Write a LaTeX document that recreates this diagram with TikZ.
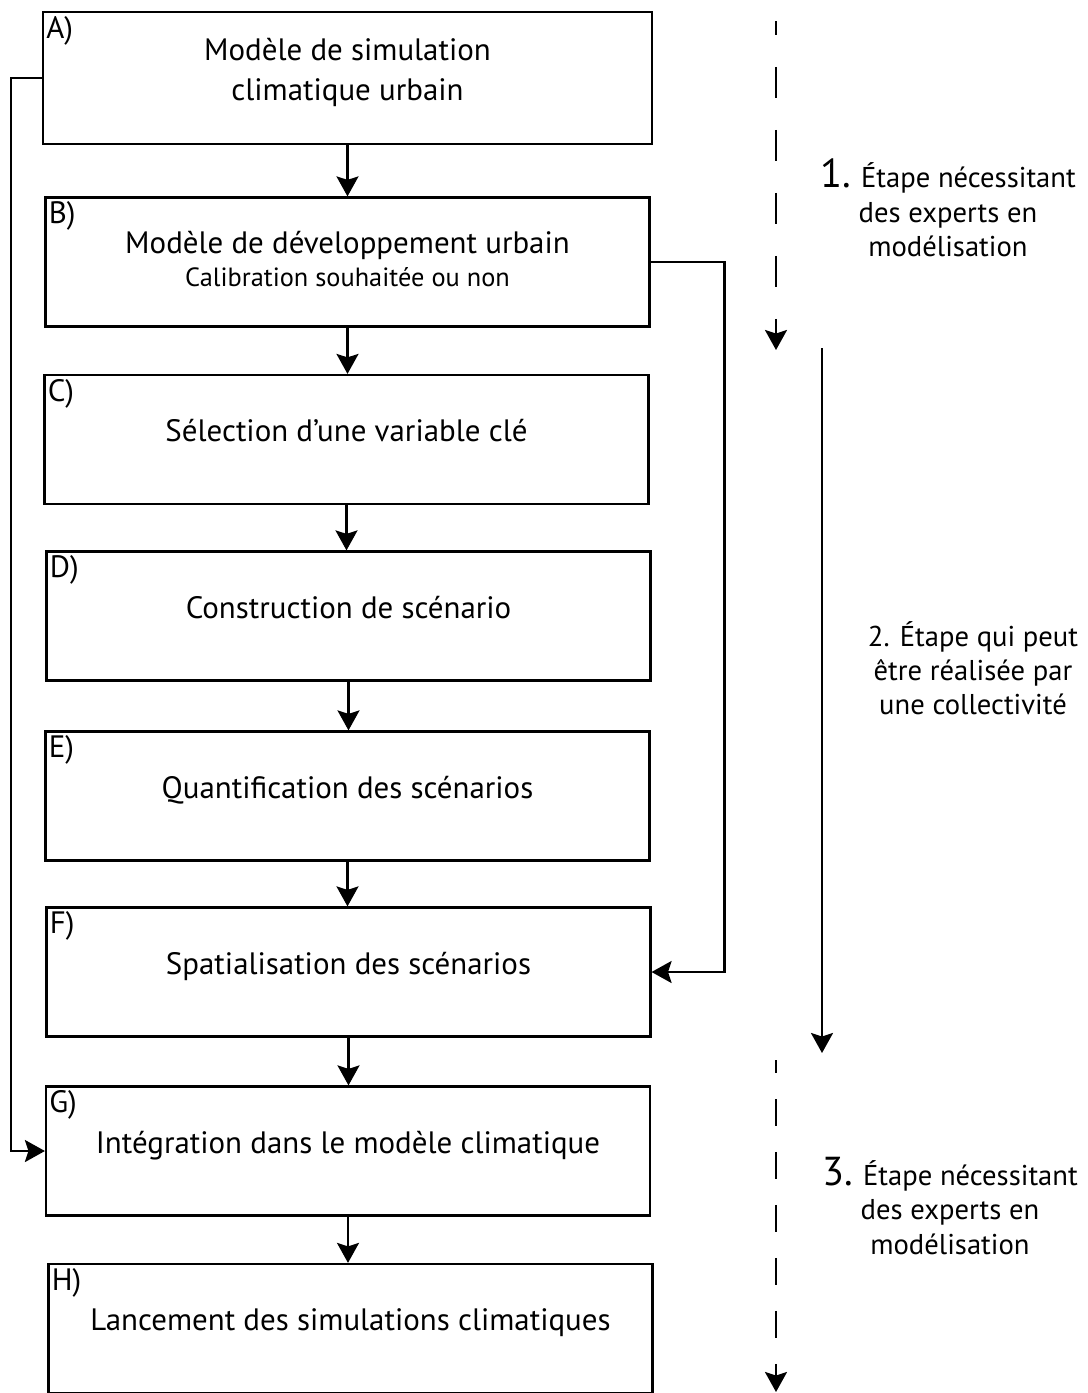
\documentclass[tikz,border=0pt]{standalone}
\usepackage{fontspec}
\setmainfont{PT Sans}
\usetikzlibrary{arrows.meta}

\begin{document}
\begin{tikzpicture}[x=0.02cm, y=-0.02cm,
  stepbox/.style={draw, line width=0.045cm, minimum width=12.08cm, minimum height=2.58cm,
    inner sep=0pt, align=center, text depth=0.35cm, font=\fontsize{17.6}{22.8}\selectfont},
  tag/.style={anchor=north west, inner sep=0pt, xshift=0.08cm, yshift=-0.1cm,
    font=\fontsize{17.6}{19}\selectfont},
  flow/.style={line width=0.045cm, -{Stealth[length=0.4cm, width=0.44cm, inset=0.07cm]}},
  phase/.style={align=center, font=\fontsize{16.3}{19.5}\selectfont}]
  \useasboundingbox (0,0) rectangle (1088,1393);
  % steps of the method
  \node[stepbox, minimum width=12.18cm, minimum height=2.64cm] (a) at (347.5,78)
    {Modèle de simulation\\climatique urbain};
  \node[stepbox, text depth=0.12cm] (b) at (347.5,262)
    {Modèle de développement urbain\\[-4pt]{\fontsize{15}{16}\selectfont Calibration souhaitée ou non}};
  \node[stepbox] (c) at (346.5,439.5) {Sélection d’une variable clé};
  \node[stepbox] (d) at (348.5,616) {Construction de scénario};
  \node[stepbox] (e) at (347.5,796) {Quantification des scénarios};
  \node[stepbox] (f) at (348.5,972) {Spatialisation des scénarios};
  \node[stepbox] (g) at (348,1151) {Intégration dans le modèle climatique};
  \node[stepbox] (h) at (350.5,1328.5) {Lancement des simulations climatiques};
  \foreach \n/\t in {a/A,b/B,c/C,d/D,e/E,f/F,g/G,h/H}
    \node[tag] (l\n) at (\n.north west) {\t)};
  % arrows between the steps
  \foreach \p/\q in {a/b,b/c,c/d,d/e,e/f,f/g,g/h}
    \draw[flow] (\p.south) -- (\p.south |- \q.north);
  \draw[flow] (a.west) -- ++(-31,0) |- (g.west);
  \draw[flow] (b.east) -- ++(74,0) |- (f.east);
  % who can do each phase
  \coordinate (p1s) at (776,21);
  \coordinate (p1e) at (776,350);
  \coordinate (p2s) at (822,348);
  \coordinate (p2e) at (822,1053);
  \coordinate (p3s) at (776,1060);
  \coordinate (p3e) at (776,1392);
  \draw[flow, dash pattern=on 0.62cm off 0.64cm, dash phase=0.34cm] (p1s) -- (p1e);
  \draw[flow] (p2s) -- (p2e);
  \draw[flow, dash pattern=on 0.54cm off 0.52cm, dash phase=0.28cm] (p3s) -- (p3e);
  \node[phase] (t1) at (948,208)
    {{\fontsize{23}{20}\selectfont 1.} Étape nécessitant\\des experts en\\modélisation};
  \node[phase] (t2) at (973,668) {2. Étape qui peut\\être réalisée par\\une collectivité};
  \node[phase] (t3) at (950,1206)
    {{\fontsize{23}{20}\selectfont 3.} Étape nécessitant\\des experts en\\modélisation};
\end{tikzpicture}
\end{document}
